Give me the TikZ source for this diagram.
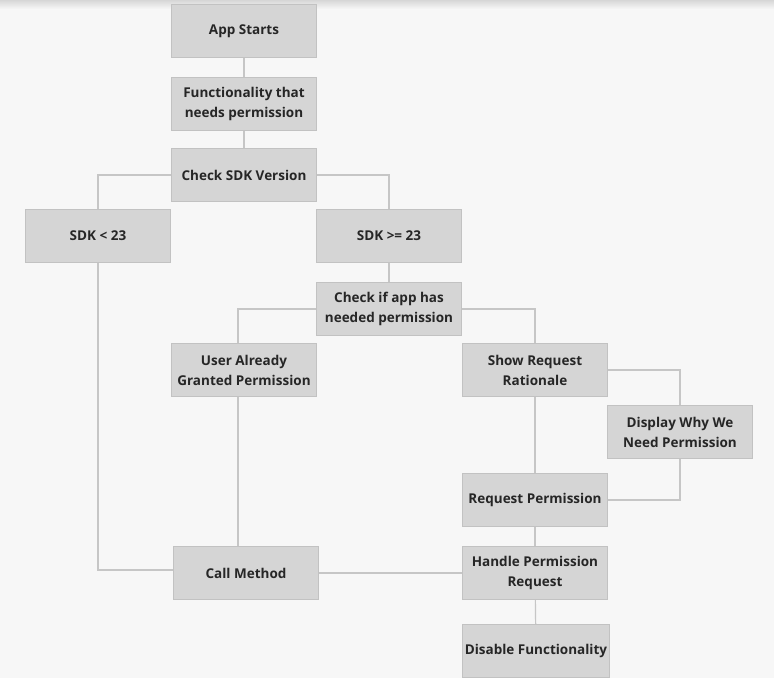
\documentclass[tikz,border=0pt]{standalone}
\usepackage{fontspec}
\setmainfont{Open Sans}
\usepackage{xcolor}
\usetikzlibrary{positioning,calc}
\definecolor{pagebg}{HTML}{F7F7F7}
\definecolor{boxfill}{HTML}{D5D5D5}
\definecolor{boxline}{HTML}{C2C2C2}
\definecolor{wire}{HTML}{C6C6C6}
\definecolor{ink}{HTML}{262626}

\begin{document}
\begin{tikzpicture}[x = 1pt, y = -1pt,
    stepbox/.style = {draw = boxline, fill = boxfill, line width = 1pt, minimum width = 145pt, minimum height = 53pt, inner sep = 2pt, align = center, text = ink, font = \bfseries\fontsize{13.5}{20}\selectfont},
    wire/.style = {draw = wire, line width = 1.2pt}]
    \useasboundingbox (0,0) rectangle (774,692);
    \fill[white] (0,0) rectangle (774,692);
    \fill[pagebg] (0,0) rectangle (774,678);
    \shade[top color = black!16, bottom color = pagebg] (0,0) rectangle (774,9);
    % top of the chart
    \node[stepbox] (start) at (244,31) {App Starts};
    \node[stepbox] (func) at (244,104) {Functionality that\\needs permission};
    \node[stepbox] (chk) at (244,175) {Check SDK Version};
    \node[stepbox] (low) at (98,236) {SDK < 23};
    \node[stepbox] (high) at (389,236) {SDK >= 23};
    \node[stepbox] (has) at (389,309) {Check if app has\\needed permission};
    % permission branches
    \node[stepbox] (granted) at (244,370) {User Already\\Granted Permission};
    \node[stepbox] (rationale) at (535,370) {Show Request\\Rationale};
    \node[stepbox] (why) at (680,432) {Display Why We\\Need Permission};
    \node[stepbox] (request) at (535,500) {Request Permission};
    \node[stepbox] (call) at (246,573) {Call Method};
    \node[stepbox] (handle) at (535,573) {Handle Permission\\Request};
    \node[stepbox] (disable) at (536,651) {Disable Functionality};
    % connectors
    \draw[wire] (start) -- (func);
    \draw[wire] (func) -- (chk);
    \draw[wire] (chk.west) -| (low.north);
    \draw[wire] (chk.east) -| (high.north);
    \draw[wire] (high) -- (has);
    \draw[wire] (has.west) -| ([xshift = -6pt]granted.north);
    \draw[wire] (has.east) -| (rationale.north);
    \draw[wire] (rationale.east) -| (why.north);
    \draw[wire] (why.south) |- (request.east);
    \draw[wire] (rationale) -- (request);
    \draw[wire] (request) -- (handle);
    \draw[wire] ([xshift = -6pt]granted.south) -- ([xshift = -6pt]granted.south |- call.north);
    \draw[wire] (low.south) |- ([yshift = 3pt]call.west);
    \draw[wire] (call) -- (handle);
    \draw[wire] (handle) -- (disable);
\end{tikzpicture}
\end{document}
